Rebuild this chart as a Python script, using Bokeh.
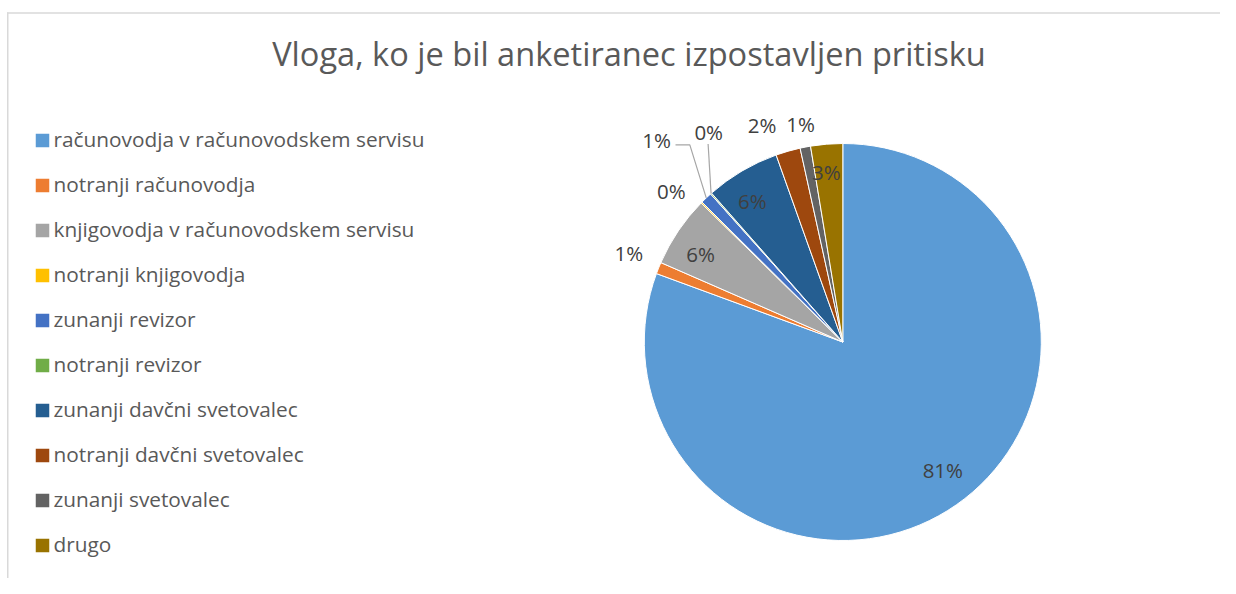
import math
from bokeh.plotting import figure
from bokeh.models import Range1d, ColumnDataSource
from bokeh.core.properties import value
from bokeh.embed import file_html
from bokeh.resources import INLINE

# ---------------- data ----------------
TITLE = "Vloga, ko je bil anketiranec izpostavljen pritisku"
categories = [
    "računovodja v računovodskem servisu",
    "notranji računovodja",
    "knjigovodja v računovodskem servisu",
    "notranji knjigovodja",
    "zunanji revizor",
    "notranji revizor",
    "zunanji davčni svetovalec",
    "notranji davčni svetovalec",
    "zunanji svetovalec",
    "drugo",
]
shares = [80.6, 0.95, 5.8, 0.1, 0.95, 0.1, 6.05, 2.0, 0.85, 2.6]
colors = ["#5B9BD5", "#ED7D31", "#A5A5A5", "#FFC000", "#4472C4",
          "#70AD47", "#255E91", "#9E480E", "#636363", "#997300"]

# ---------------- layout / style ----------------
W, H = 1220, 578
CX, CY, R = 842.3, -341.5, 198.5
FONT = "Open Sans"
TXT = "#595959"
LBL = "#404040"
LBL_SIZE = 20.5
LEG_SIZE = 20.8
TITLE_SIZE = 32.6
SHIFT = 0.4  # em correction for the SVG alphabetic baseline
# per-slice label placement: (radius factor, angular nudge in degrees clockwise)
LABEL_PLACE = [(0.82, -3.0), (1.165, 0.5), (0.84, -2.5), (1.147, -3.5), (1.382, 0.7),
               (1.251, 8.9), (0.839, -2.4), (1.160, -4.5), (1.115, -0.1), (0.855, -0.9)]
LEADER = {4: "elbow", 5: "vertical"}

p = figure(width=W, height=H, output_backend="svg", toolbar_location=None,
           x_range=Range1d(0, W), y_range=Range1d(-H, 0),
           x_axis_type=None, y_axis_type=None, min_border=0)
p.grid.visible = False
p.outline_line_color = None
p.background_fill_color = "white"
p.border_fill_color = "white"

# chart border (top and left visible)
p.line([7.25, 7.25], [-12.0, -H], line_color="#D9D9D9", line_width=1.5)
p.line([6.5, W], [-12.5, -12.5], line_color="#D9D9D9", line_width=1.5)

# title
p.text(x=[628.5], y=[-66.5 + SHIFT * TITLE_SIZE], text=[TITLE], text_font=value(FONT),
       text_font_size=f"{TITLE_SIZE}px", text_color=TXT, text_align="center",
       text_baseline="alphabetic")

# pie
total = sum(shares)
starts, ends, mids = [], [], []
acc = 0.0
for s in shares:
    a0 = acc / total * 2 * math.pi
    acc += s
    a1 = acc / total * 2 * math.pi
    starts.append(math.pi / 2 - a0)
    ends.append(math.pi / 2 - a1)
    mids.append((a0 + a1) / 2)  # clockwise from north

src = ColumnDataSource(dict(start=starts, end=ends, color=colors))
p.wedge(x=CX, y=CY, radius=R, start_angle="start", end_angle="end", direction="clock",
        fill_color="color", line_color="white", line_width=1, source=src)

# data labels
lx, ly, lt = [], [], []
for i, s in enumerate(shares):
    rf, nudge = LABEL_PLACE[i]
    phi = mids[i] + math.radians(nudge)
    x = CX + rf * R * math.sin(phi)
    y = CY + rf * R * math.cos(phi)
    lx.append(x)
    ly.append(y)
    pct = s / total * 100
    lt.append(f"{int(math.floor(pct + 0.5))}%")
    if i in LEADER:
        ex = CX + R * math.sin(mids[i])
        ey = CY + R * math.cos(mids[i])
        if LEADER[i] == "elbow":
            xs = [x + 19, x + 33.3, ex]
            ys = [y - 4.3, y - 4.3, ey]
        else:
            xs = [x - 0.6, ex]
            ys = [y - 11, ey]
        p.line(xs, ys, line_color="#A6A6A6", line_width=1.2)

p.text(x=lx, y=[v - 0.357 * LBL_SIZE + SHIFT * LBL_SIZE for v in ly], text=lt,
       text_font=value(FONT), text_font_size=f"{LBL_SIZE}px", text_color=LBL,
       text_align="center", text_baseline="alphabetic")

# legend
leg_y = [-(140 + 45 * i) for i in range(len(categories))]
p.scatter(x=[42] * len(categories), y=leg_y, marker="square", size=13.5,
          fill_color=colors, line_color=None)
p.text(x=[53] * len(categories), y=[v - 6.5 + SHIFT * LEG_SIZE for v in leg_y],
       text=categories, text_font=value(FONT), text_font_size=f"{LEG_SIZE}px",
       text_color=TXT, text_align="left", text_baseline="alphabetic")

open("out.html", "w").write(file_html(p, INLINE))
